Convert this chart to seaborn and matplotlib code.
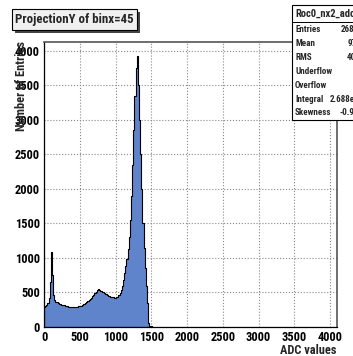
import numpy as np
import pandas as pd
import matplotlib
matplotlib.use("Agg")
import matplotlib.pyplot as plt
from matplotlib import font_manager
from matplotlib.patches import Rectangle
from matplotlib.lines import Line2D
from matplotlib.ticker import MultipleLocator
import seaborn as sns

# ADC spectrum, 16-count wide bins starting at 0
bin_width = 16
adc_counts = [
    290, 300, 322, 350, 420, 650, 1085, 760, 470, 392,
    368, 357, 343, 336, 328, 322, 316, 313, 304, 300,
    297, 293, 291, 287, 287, 284, 289, 283, 291, 292,
    299, 302, 311, 317, 326, 334, 346, 356, 371, 384,
    401, 419, 442, 460, 492, 508, 532, 552, 541, 528,
    522, 503, 497, 484, 473, 463, 452, 446, 441, 430,
    429, 424, 423, 431, 439, 461, 488, 532, 588, 682,
    778, 882, 990, 1130, 1300, 1550, 1900, 2350, 2850, 3350,
    3750, 3930, 3500, 3000, 2500, 2000, 1500, 1150, 850, 600,
    350, 60, 15, 8,
]
x_ticks = [0, 500, 1000, 1500, 2000, 2500, 3000, 3500, 4000]
y_ticks = [0, 500, 1000, 1500, 2000, 2500, 3000, 3500, 4000]

title_text = "ProjectionY of binx=45"
stats_name = "Roc0_nx2_adc_hist"
stats_rows = [
    ("Entries", "268834"),
    ("Mean", "972.1"),
    ("RMS", "407.3"),
    ("Underflow", "0"),
    ("Overflow", "523"),
    ("Integral", "2.688e+05"),
    ("Skewness", "-0.9036"),
]

W, H = 353, 356
sns.set_style("white")

# prefer a condensed sans face when one is available
installed = {f.name for f in font_manager.fontManager.ttflist}
family = "Liberation Sans"
scale = 1.0
for cand in ["Roboto Condensed", "Liberation Sans Narrow", "Open Sans Condensed",
             "Noto Sans Condensed", "Arial Narrow"]:
    if cand in installed:
        family = cand
        scale = 1.22
        break
plt.rcParams["font.family"] = [family, "DejaVu Sans"]
plt.rcParams["font.weight"] = "bold"


def fs(size):
    return size * scale


def fx(px):
    return px / W


def fy(py):
    return 1 - py / H


counts = np.array(adc_counts, dtype=float)
n_bins = len(counts)
hist_df = pd.DataFrame({"adc": np.arange(n_bins) * bin_width + bin_width / 2,
                        "n": counts})

fig = plt.figure(figsize=(W / 100, H / 100), dpi=100)
fig.patch.set_facecolor("white")
ax = fig.add_axes([fx(44), fy(327), fx(337) - fx(44), fy(42) - fy(327)])

sns.histplot(data=hist_df, x="adc", weights="n", binwidth=bin_width,
             binrange=(0, n_bins * bin_width), element="step",
             fill=True, color="#5f84cb", alpha=1.0, edgecolor="black",
             linewidth=0.8, ax=ax)

ax.set_xlim(0, 4096)
ax.set_ylim(0, 4127)
ax.set_xticks(x_ticks)
ax.set_yticks(y_ticks)
ax.xaxis.set_minor_locator(MultipleLocator(100))
ax.yaxis.set_minor_locator(MultipleLocator(100))
ax.tick_params(which="major", direction="in", length=5, width=0.8,
               labelsize=fs(7.3), pad=3, colors="black")
ax.tick_params(which="minor", direction="in", length=2.5, width=0.7)
ax.tick_params(top=False, right=False, which="both")
for lab in ax.get_xticklabels() + ax.get_yticklabels():
    lab.set_fontweight("bold")
ax.grid(True, which="major", linestyle=":", color="#888888", linewidth=0.8)
ax.set_axisbelow(True)
for side in ["left", "bottom"]:
    ax.spines[side].set_color("black")
    ax.spines[side].set_linewidth(0.9)
for side in ["top", "right"]:
    ax.spines[side].set_color("#555555")
    ax.spines[side].set_linewidth(1.2)
ax.set_xlabel("")
ax.set_ylabel("")

fig.text(fx(336), fy(351), "ADC values", ha="right", va="center",
         fontsize=fs(7.3), fontweight="bold")
fig.text(fx(22), fy(41), "Number of Entries", rotation=90, ha="center",
         va="top", fontsize=fs(7.3), fontweight="bold")

# title box with drop shadow
fig.patches.append(Rectangle((fx(15), fy(33)), fx(125), fy(0) - fy(21),
                             transform=fig.transFigure, facecolor="#444444",
                             edgecolor="none", zorder=5))
fig.patches.append(Rectangle((fx(12), fy(30)), fx(125), fy(0) - fy(21),
                             transform=fig.transFigure, facecolor="#f0f0f0",
                             edgecolor="black", linewidth=0.8, zorder=6))
fig.text(fx(74.5), fy(19.5), title_text, ha="center", va="center",
         fontsize=fs(7.6), fontweight="bold", zorder=7)

# statistics box
fig.patches.append(Rectangle((fx(292), fy(120)), fx(80), fy(0) - fy(115),
                             transform=fig.transFigure, facecolor="white",
                             edgecolor="black", linewidth=0.8, zorder=5))
fig.lines.append(Line2D([fx(292), fx(372)], [fy(22), fy(22)],
                        transform=fig.transFigure, color="black",
                        linewidth=0.7, zorder=6))
fig.text(fx(295), fy(14), stats_name, ha="left", va="center",
         fontsize=fs(6.2), fontweight="bold", zorder=7)
for i, (name, val) in enumerate(stats_rows):
    yy = 29 + 14 * i
    fig.text(fx(295), fy(yy), name, ha="left", va="center",
             fontsize=fs(5.3), fontweight="bold", zorder=7)
    fig.text(fx(368), fy(yy), val, ha="right", va="center",
             fontsize=fs(5.3), fontweight="bold", zorder=7)

fig.savefig("out.png", dpi=100)
